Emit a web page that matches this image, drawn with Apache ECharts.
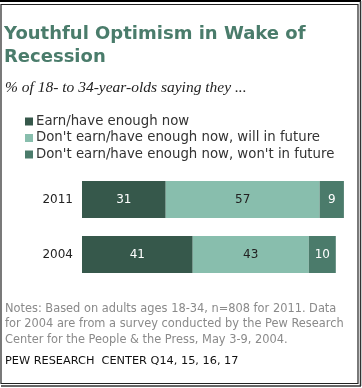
<!DOCTYPE html>
<html><head><meta charset="utf-8">
<script src="https://cdn.jsdelivr.net/npm/echarts@6/dist/echarts.min.js"></script>
<style>html,body{margin:0;padding:0;background:#fff}#c{width:362px;height:388px}</style>
</head><body><div id="c"></div>
<script>
const categories = ['2011', '2004'];
const seriesNames = ['Earn/have enough now', "Don't earn/have enough now, will in future", "Don't earn/have enough now, won't in future"];
const earnNow = [31, 41];
const willFuture = [57, 43];
const wontFuture = [9, 10];
const colors = ['#36584b', '#88bead', '#4b7b6b'];
const labelColors = ['#ffffff', '#222222', '#ffffff'];

const chart = echarts.init(document.getElementById('c'), null, {renderer: 'canvas'});
const vals = [earnNow, willFuture, wontFuture];
chart.setOption({
  animation: false,
  title: [
    {text: 'Youthful Optimism in Wake of\nRecession', left: -1, top: 18,
     textStyle: {fontFamily: 'DejaVu Sans', fontWeight: 'bold', fontSize: 18, color: '#4a7c6b', lineHeight: 23}},
    {text: '% of 18- to 34-year-olds saying they ...', left: 0, top: 75,
     textStyle: {fontFamily: 'Liberation Serif', fontStyle: 'italic', fontWeight: 'normal', fontSize: 15.5, color: '#222'}}
  ],
  legend: {
    orient: 'vertical', left: 20, top: 109.5, icon: 'rect', itemWidth: 8, itemHeight: 8, itemGap: 2.5,
    textStyle: {fontFamily: 'DejaVu Sans', fontSize: 13.3, color: '#333', lineHeight: 14, padding: [0,0,0,-2]},
    data: seriesNames
  },
  grid: {left: 82, width: 270, top: 172, height: 110},
  xAxis: {type: 'value', min: 0, max: 100, show: false},
  yAxis: {type: 'category', data: categories, inverse: true,
    axisLine: {show: false}, axisTick: {show: false},
    axisLabel: {fontFamily: 'DejaVu Sans', fontSize: 12, color: '#222', margin: 9}},
  series: vals.map((v, i) => ({
    name: seriesNames[i], type: 'bar', stack: 'all', data: v, barWidth: 37,
    itemStyle: {color: colors[i]},
    label: {show: true, position: 'inside', fontFamily: 'DejaVu Sans', fontSize: 12, color: labelColors[i]}
  })),
  graphic: [
    {type: 'rect', shape: {x: 1, y: 4.5, width: 357, height: 379}, style: {fill: 'none', stroke: '#222', lineWidth: 1.2}},
    {type: 'line', shape: {x1: 0, y1: 1, x2: 361, y2: 1}, style: {stroke: '#000', lineWidth: 2}},
    {type: 'line', shape: {x1: 360.5, y1: 1, x2: 360.5, y2: 386}, style: {stroke: '#333', lineWidth: 1.5}},
    {type: 'line', shape: {x1: 1, y1: 386, x2: 361, y2: 386}, style: {stroke: '#333', lineWidth: 1.5}},
    {type: 'text', left: 5, top: 301, style: {text: 'Notes: Based on adults ages 18-34, n=808 for 2011. Data\nfor 2004 are from a survey conducted by the Pew Research\nCenter for the People & the Press, May 3-9, 2004.',
      font: '11.4px "DejaVu Sans"', fill: '#8a8a8a', lineHeight: 15.5}},
    {type: 'text', left: 5, top: 356, style: {text: 'PEW RESEARCH  CENTER Q14, 15, 16, 17', font: '11.3px "DejaVu Sans"', fill: '#111'}}
  ]
});
</script></body></html>
